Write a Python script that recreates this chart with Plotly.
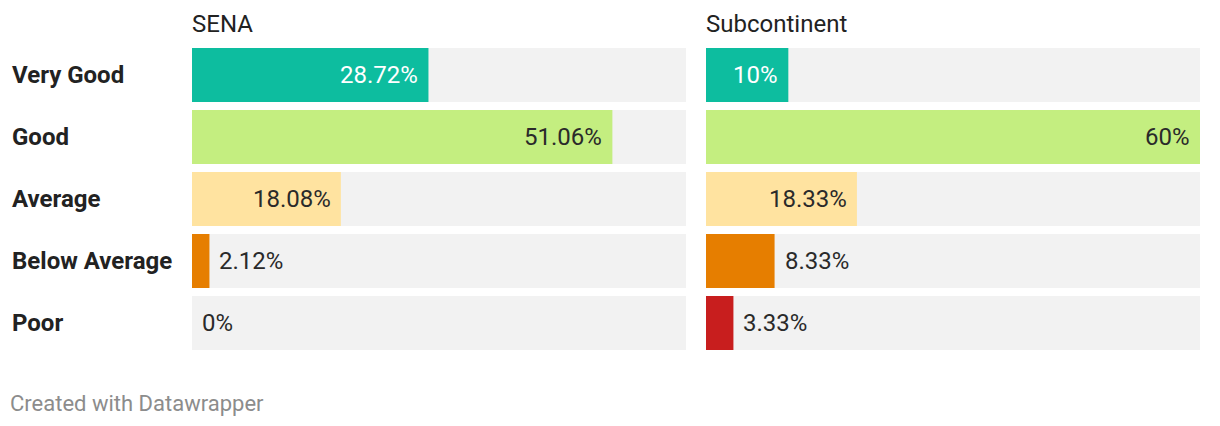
import plotly.graph_objects as go

# page has an 8px body margin, so the figure is a bit smaller than the window
OFF = 8
W, H = 1220 - OFF, 426 - OFF

categories = ["Very Good", "Good", "Average", "Below Average", "Poor"]
panels = ["SENA", "Subcontinent"]
sena_values = [28.72, 51.06, 18.08, 2.12, 0]
subcontinent_values = [10, 60, 18.33, 8.33, 3.33]
bar_colors = ["#0dbd9f", "#c4ee80", "#ffe3a0", "#e67e00", "#c81e1e"]
label_colors = ["#ffffff", "#2a2a2a", "#2a2a2a", "#2a2a2a", "#2a2a2a"]
scale_max = 60

FONT = "Roboto"


def px_x(x):
    return (x - OFF) / W


def px_y(y):
    return 1 - (y - OFF) / H


fig = go.Figure()

panel_data = [sena_values, subcontinent_values]
x_axes = ["x", "x2"]
y_axes = ["y", "y2"]
panel_left = [192, 706]

annotations = []
for values, xa, ya, title, left in zip(panel_data, x_axes, y_axes, panels, panel_left):
    # grey background track
    fig.add_trace(go.Bar(
        y=categories, x=[scale_max] * len(categories), orientation="h",
        marker=dict(color="#f2f2f2", line=dict(width=0)),
        xaxis=xa, yaxis=ya, hoverinfo="skip", showlegend=False,
    ))
    fig.add_trace(go.Bar(
        y=categories, x=values, orientation="h",
        marker=dict(color=bar_colors, line=dict(width=0)),
        xaxis=xa, yaxis=ya, showlegend=False,
        hovertemplate="%{y}: %{x}%<extra></extra>",
    ))
    # value labels: inside (right aligned) when the bar is wide enough
    for cat, v, lc in zip(categories, values, label_colors):
        inside = v >= 9.5
        annotations.append(dict(
            x=v, y=cat, xref=xa, yref=ya,
            text=f"{v:g}%",
            xanchor="right" if inside else "left",
            xshift=-8 if inside else 8,
            showarrow=False,
            font=dict(family=FONT, size=24, color=lc if inside else "#2a2a2a"),
        ))
    # panel title
    annotations.append(dict(x=px_x(left - 2), y=px_y(24), xref="paper", yref="paper",
                            text=title, xanchor="left", yanchor="middle", showarrow=False,
                            font=dict(family=FONT, size=24, color="#222222")))

# row labels
for cat in categories:
    annotations.append(dict(x=px_x(10), y=cat, xref="paper", yref="y",
                            text=f"<b>{cat}</b>", xanchor="left", showarrow=False,
                            font=dict(family=FONT, size=24, color="#222222")))

# footer
annotations.append(dict(x=px_x(8), y=px_y(403), xref="paper", yref="paper",
                        text="Created with Datawrapper", xanchor="left", yanchor="middle",
                        showarrow=False, font=dict(family=FONT, size=22, color="#8c8c8c")))

y_dom = [px_y(354), px_y(44)]
axis_common = dict(showgrid=False, zeroline=False, showticklabels=False, fixedrange=True)

fig.update_layout(
    width=W, height=H,
    margin=dict(l=0, r=0, t=0, b=0),
    paper_bgcolor="white", plot_bgcolor="white",
    barmode="overlay", bargap=8 / 62,
    xaxis=dict(domain=[px_x(192), px_x(686)], range=[0, scale_max], anchor="y", **axis_common),
    xaxis2=dict(domain=[px_x(706), px_x(1200)], range=[0, scale_max], anchor="y2", **axis_common),
    yaxis=dict(domain=y_dom, autorange="reversed", anchor="x", **axis_common),
    yaxis2=dict(domain=y_dom, autorange="reversed", anchor="x2", **axis_common),
    annotations=annotations,
    font=dict(family=FONT),
)

fig.write_html("out.html")
